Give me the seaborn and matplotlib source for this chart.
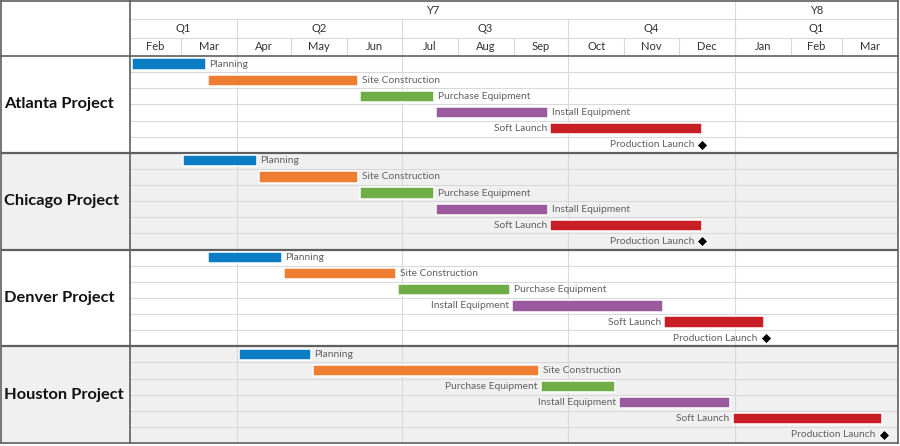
import numpy as np
import pandas as pd
import matplotlib
matplotlib.use("Agg")
import matplotlib.pyplot as plt
import seaborn as sns

# ---------------- data ----------------
projects = ["Atlanta Project", "Chicago Project", "Denver Project", "Houston Project"]
tasks = ["Planning", "Site Construction", "Purchase Equipment", "Install Equipment", "Soft Launch"]
milestone_name = "Production Launch"

atlanta_start = ["2021-02-02", "2021-03-16", "2021-06-08", "2021-07-20", "2021-09-21"]
atlanta_end = ["2021-03-15", "2021-06-07", "2021-07-19", "2021-09-20", "2021-12-14"]
atlanta_milestone = "2021-12-14"

chicago_start = ["2021-03-02", "2021-04-13", "2021-06-08", "2021-07-20", "2021-09-21"]
chicago_end = ["2021-04-12", "2021-06-07", "2021-07-19", "2021-09-20", "2021-12-14"]
chicago_milestone = "2021-12-14"

denver_start = ["2021-03-16", "2021-04-27", "2021-06-29", "2021-08-31", "2021-11-23"]
denver_end = ["2021-04-26", "2021-06-28", "2021-08-30", "2021-11-22", "2022-01-17"]
denver_milestone = "2022-01-18"

houston_start = ["2021-04-02", "2021-05-13", "2021-09-16", "2021-10-29", "2021-12-31"]
houston_end = ["2021-05-12", "2021-09-15", "2021-10-27", "2021-12-29", "2022-03-23"]
houston_milestone = "2022-03-24"

timeline_start = "2021-02-01"
timeline_end = "2022-04-01"
year_labels = ["Y7", "Y8"]
year_starts = ["2021-02-01", "2022-01-01"]
quarter_labels = ["Q1", "Q2", "Q3", "Q4", "Q1"]
quarter_starts = ["2021-02-01", "2021-04-01", "2021-07-01", "2021-10-01", "2022-01-01"]
month_labels = ["Feb", "Mar", "Apr", "May", "Jun", "Jul", "Aug", "Sep",
                "Oct", "Nov", "Dec", "Jan", "Feb", "Mar"]
month_starts = ["2021-02-01", "2021-03-01", "2021-04-01", "2021-05-01", "2021-06-01",
                "2021-07-01", "2021-08-01", "2021-09-01", "2021-10-01", "2021-11-01",
                "2021-12-01", "2022-01-01", "2022-02-01", "2022-03-01"]

task_colors = ["#0a7dc4", "#ee7d31", "#6fad46", "#9a5a9d", "#c81f27"]

# ---------------- build table ----------------
t0 = pd.Timestamp(timeline_start)
def day(s):
    return (pd.Timestamp(s) - t0).days

starts = [atlanta_start, chicago_start, denver_start, houston_start]
ends = [atlanta_end, chicago_end, denver_end, houston_end]
miles = [atlanta_milestone, chicago_milestone, denver_milestone, houston_milestone]

rows = []
for pi, p in enumerate(projects):
    for ti, t in enumerate(tasks):
        rows.append(dict(project=p, task=t, row=pi * 6 + ti + 0.5,
                         start=day(starts[pi][ti]), end=day(ends[pi][ti]),
                         color=task_colors[ti]))
bars = pd.DataFrame(rows)
ms = pd.DataFrame(dict(project=projects,
                       row=[pi * 6 + 5.5 for pi in range(len(projects))],
                       x=[day(m) for m in miles]))

x_end = day(timeline_end)
nrows = len(projects) * 6

# ---------------- style ----------------
sns.set_theme(style="white")
plt.rcParams["font.family"] = ["Lato", "DejaVu Sans"]

W, H = 900, 446
fig = plt.figure(figsize=(W / 100, H / 100), dpi=100)
fig.patch.set_facecolor("white")

def rect(x0, y0, x1, y1):
    return [x0 / W, 1 - y1 / H, (x1 - x0) / W, (y1 - y0) / H]

body_top, body_bot = 56, 443
left_x, chart_x0, chart_x1 = 1, 130, 898

ax = fig.add_axes(rect(chart_x0, body_top, chart_x1, body_bot))
axh = fig.add_axes(rect(chart_x0, 1, chart_x1, body_top))
axl = fig.add_axes(rect(left_x, body_top, chart_x0, body_bot))
axlh = fig.add_axes(rect(left_x, 1, chart_x0, body_top))

dark = "#5f5f5f"
light = "#d9d9d9"
shade = "#f0f0f0"
txt = "#606060"

# ---- body ----
ax.set_xlim(0, x_end)
ax.set_ylim(nrows, 0)
for pi in range(len(projects)):
    if pi % 2 == 1:
        ax.axhspan(pi * 6, pi * 6 + 6, color=shade, zorder=0, lw=0)
        axl.axhspan(pi * 6, pi * 6 + 6, color=shade, zorder=0, lw=0)
for r in range(1, nrows):
    if r % 6:
        ax.axhline(r, color=light, lw=0.8, zorder=1)
for q in quarter_starts[1:]:
    ax.axvline(day(q), color=light, lw=0.8, zorder=1)
for r in range(6, nrows, 6):
    ax.axhline(r, color=dark, lw=1.6, zorder=3)
    axl.axhline(r, color=dark, lw=1.6, zorder=3)

ax.barh(bars["row"], bars["end"] - bars["start"], left=bars["start"], height=0.7,
        color=bars["color"], edgecolor="white", linewidth=1.1, zorder=4)

label_threshold = 250
for _, b in bars.iterrows():
    if b["end"] > label_threshold:
        ax.annotate(b["task"], (b["start"], b["row"]), xytext=(-2.5, 0),
                    textcoords="offset points", ha="right", va="center",
                    fontsize=7.4, color=txt, zorder=5)
    else:
        ax.annotate(b["task"], (b["end"], b["row"]), xytext=(2.5, 0),
                    textcoords="offset points", ha="left", va="center",
                    fontsize=7.4, color=txt, zorder=5)

sns.scatterplot(data=ms, x="x", y="row", marker="D", s=30, color="black",
                edgecolor="white", linewidth=0.8, ax=ax, zorder=6, legend=False)
for _, m in ms.iterrows():
    ax.annotate(milestone_name, (m["x"], m["row"]), xytext=(-6, 0),
                textcoords="offset points", ha="right", va="center",
                fontsize=7.4, color=txt, zorder=5)
ax.set_xlabel("")
ax.set_ylabel("")
ax.set_xticks([])
ax.set_yticks([])
for s in ["top", "left"]:
    ax.spines[s].set_visible(False)
for s in ["right", "bottom"]:
    ax.spines[s].set_color(dark)
    ax.spines[s].set_linewidth(1.2)

# ---- left column ----
axl.set_xlim(0, 1)
axl.set_ylim(nrows, 0)
for pi, p in enumerate(projects):
    axl.text(0.025, pi * 6 + 3, p, ha="left", va="center", fontsize=11.8,
             fontweight="bold", color="#111111")
axl.set_xticks([])
axl.set_yticks([])
axl.spines["top"].set_visible(False)
for s in ["left", "right", "bottom"]:
    axl.spines[s].set_color(dark)
    axl.spines[s].set_linewidth(1.2)

# ---- header ----
axh.set_xlim(0, x_end)
axh.set_ylim(3, 0)
hdr_txt = "#333333"
yb = [day(s) for s in year_starts] + [x_end]
for i, lab in enumerate(year_labels):
    axh.text((yb[i] + yb[i + 1]) / 2, 0.5, lab, ha="center", va="center",
             fontsize=8, color=hdr_txt)
for x in yb[1:-1]:
    axh.plot([x, x], [0, 3], color=light, lw=0.8)
qb = [day(s) for s in quarter_starts] + [x_end]
for i, lab in enumerate(quarter_labels):
    axh.text((qb[i] + qb[i + 1]) / 2, 1.5, lab, ha="center", va="center",
             fontsize=8, color=hdr_txt)
for x in qb[1:-1]:
    axh.plot([x, x], [1, 3], color=light, lw=0.8)
mb = [day(s) for s in month_starts] + [x_end]
for i, lab in enumerate(month_labels):
    axh.text((mb[i] + mb[i + 1]) / 2, 2.5, lab, ha="center", va="center",
             fontsize=8, color=hdr_txt)
for x in mb[1:-1]:
    axh.plot([x, x], [2, 3], color=light, lw=0.8)
axh.axhline(1, color=light, lw=0.8)
axh.axhline(2, color=light, lw=0.8)
axh.set_xticks([])
axh.set_yticks([])
axh.spines["left"].set_visible(False)
for s in ["top", "right", "bottom"]:
    axh.spines[s].set_color(dark)
    axh.spines[s].set_linewidth(1.2)

axlh.set_xticks([])
axlh.set_yticks([])
for s in ["top", "left", "right", "bottom"]:
    axlh.spines[s].set_color(dark)
    axlh.spines[s].set_linewidth(1.2)

fig.savefig("out.png", dpi=100, facecolor="white")
